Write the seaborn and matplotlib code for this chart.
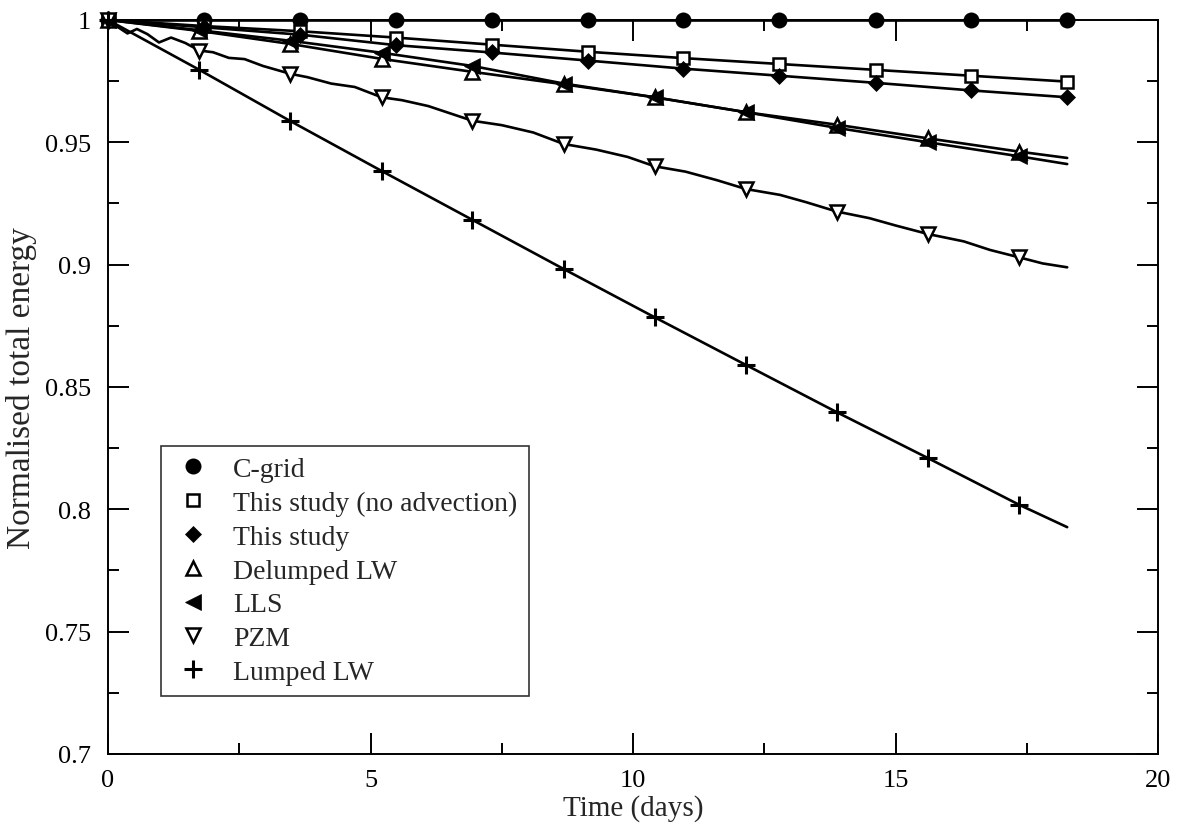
import numpy as np
import pandas as pd
import seaborn as sns
import matplotlib.pyplot as plt
from matplotlib.ticker import MultipleLocator, FuncFormatter

# times of the plotted symbols (two output intervals)
t_mark_a = [0.0, 1.83, 3.65, 5.48, 7.31, 9.14, 10.96, 12.79, 14.62, 16.44, 18.27]
t_mark_b = [0.0, 1.74, 3.47, 5.21, 6.94, 8.68, 10.41, 12.15, 13.88, 15.62, 17.35]
t_end = 18.27

# symbol values
cgrid_m = [1.0, 1.0, 1.0, 1.0, 1.0, 1.0, 1.0, 1.0, 1.0, 1.0, 1.0]
noadv_m = [1.0, 0.9975, 0.9954, 0.9928, 0.9899, 0.9870, 0.9844, 0.9820, 0.9796, 0.9772, 0.9748]
study_m = [1.0, 0.9970, 0.9940, 0.9897, 0.9867, 0.9834, 0.9801, 0.9772, 0.9743, 0.9712, 0.9684]
delumped_m = [1.0, 0.9955, 0.9902, 0.9841, 0.9788, 0.9737, 0.9684, 0.9623, 0.9572, 0.9516, 0.9462]
lls_m = [1.0, 0.9958, 0.9915, 0.9866, 0.9812, 0.9740, 0.9684, 0.9623, 0.9559, 0.9500, 0.9443]
pzm_m = [1.0, 0.9875, 0.9780, 0.9684, 0.9588, 0.9493, 0.9402, 0.9309, 0.9217, 0.9125, 0.9030]
lumped_m = [1.0, 0.9796, 0.9587, 0.9383, 0.9183, 0.8982, 0.8785, 0.8590, 0.8397, 0.8209, 0.8019]

# values at the end of the run
delumped_end = 0.9436
lls_end = 0.9411
pzm_end = 0.8989
lumped_end = 0.7927

# PZM curve, with its early oscillation
pzm_t = [0.0, 0.18, 0.37, 0.55, 0.75, 0.97, 1.2, 1.47, 1.74, 2.0, 2.3, 2.6, 2.95,
         3.47, 3.8, 4.25, 4.7, 5.21, 5.6, 6.1, 6.94, 7.5, 8.1, 8.68, 9.3, 9.9,
         10.41, 11.0, 11.6, 12.15, 12.8, 13.3, 13.88, 14.5, 15.0, 15.62, 16.3,
         16.8, 17.35, 17.8, 18.27]
pzm_e = [1.0, 0.9972, 0.9945, 0.9963, 0.9942, 0.9908, 0.9928, 0.9906, 0.9875,
         0.9868, 0.9845, 0.9840, 0.9812, 0.9780, 0.9766, 0.9740, 0.9726, 0.9684,
         0.9672, 0.9648, 0.9588, 0.9570, 0.9540, 0.9493, 0.9470, 0.9440, 0.9402,
         0.9380, 0.9345, 0.9309, 0.9285, 0.9255, 0.9217, 0.9190, 0.9160, 0.9125,
         0.9095, 0.9060, 0.9030, 0.9005, pzm_end]

labels = ["C-grid", "This study (no advection)", "This study", "Delumped LW",
          "LLS", "PZM", "Lumped LW"]

sns.set_style("ticks")
plt.rcParams['font.family'] = ['Liberation Serif', 'DejaVu Serif']
plt.rcParams['font.size'] = 19

fig = plt.figure(figsize=(11.86, 8.28), dpi=100)
ax = fig.add_axes([0.0911, 0.0882, 0.8853, 0.8865])

# (line x, line y, symbol x, symbol y)
curves = [
    (t_mark_a, cgrid_m, t_mark_a, cgrid_m),
    (t_mark_a, noadv_m, t_mark_a, noadv_m),
    (t_mark_a, study_m, t_mark_a, study_m),
    (t_mark_b + [t_end], delumped_m + [delumped_end], t_mark_b, delumped_m),
    (t_mark_b + [t_end], lls_m + [lls_end], t_mark_b, lls_m),
    (pzm_t, pzm_e, t_mark_b, pzm_m),
    (t_mark_b + [t_end], lumped_m + [lumped_end], t_mark_b, lumped_m),
]

styles = [
    dict(marker='o', markersize=11.5, markerfacecolor='black', markeredgewidth=0),
    dict(marker='s', markersize=8.5, markerfacecolor='white', markeredgewidth=1.8),
    dict(marker='D', markersize=8.5, markerfacecolor='black', markeredgewidth=0.5),
    dict(marker='^', markersize=10, markerfacecolor='white', markeredgewidth=1.8),
    dict(marker='<', markersize=11, markerfacecolor='black', markeredgewidth=0.5),
    dict(marker='v', markersize=10, markerfacecolor='white', markeredgewidth=1.8),
    dict(marker='+', markersize=13, markeredgewidth=2.2),
]

handles = []
for (lx, ly, mx, my), lab, st in zip(curves, labels, styles):
    sns.lineplot(x=lx, y=ly, color='black', linewidth=1.9, estimator=None,
                 sort=False, ax=ax, clip_on=False)
    sns.lineplot(x=mx, y=my, color='black', linestyle='none', markeredgecolor='black',
                 estimator=None, sort=False, ax=ax, clip_on=False, zorder=3, **st)
    ax.lines[-1].set_label(lab)
    handles.append(ax.lines[-1])

ax.set_xlim(0, 20)
ax.set_ylim(0.7, 1.0)
ax.xaxis.set_major_locator(MultipleLocator(5))
ax.xaxis.set_minor_locator(MultipleLocator(2.5))
ax.yaxis.set_major_locator(MultipleLocator(0.05))
ax.yaxis.set_minor_locator(MultipleLocator(0.025))
fmt = FuncFormatter(lambda v, p: f"{v:g}")
ax.xaxis.set_major_formatter(fmt)
ax.yaxis.set_major_formatter(fmt)
ax.tick_params(which='both', direction='in', top=True, right=True, width=1.4,
               labelsize=19, colors='black')
ax.tick_params(which='major', length=15)
ax.tick_params(axis='x', which='major', pad=11)
ax.tick_params(axis='y', which='major', pad=12)
ax.tick_params(which='minor', length=8)
for s in ax.spines.values():
    s.set_linewidth(1.4)
    s.set_color('black')

ax.set_xlabel("Time (days)", fontsize=21)
ax.set_ylabel("Normalised total energy", fontsize=24)
ax.xaxis.set_label_coords(0.5, -0.054)
ax.yaxis.set_label_coords(-0.068, 0.5)

leg = ax.legend(handles=handles, loc='lower left', bbox_to_anchor=(0.0505, 0.079),
                borderaxespad=0, frameon=True, fancybox=False, markerscale=1.0,
                fontsize=20, labelspacing=0.3, handlelength=1.5, handletextpad=0.7,
                borderpad=0.4)
leg.get_frame().set_edgecolor('black')
leg.get_frame().set_linewidth(1.2)

fig.savefig("out.png", dpi=100)
